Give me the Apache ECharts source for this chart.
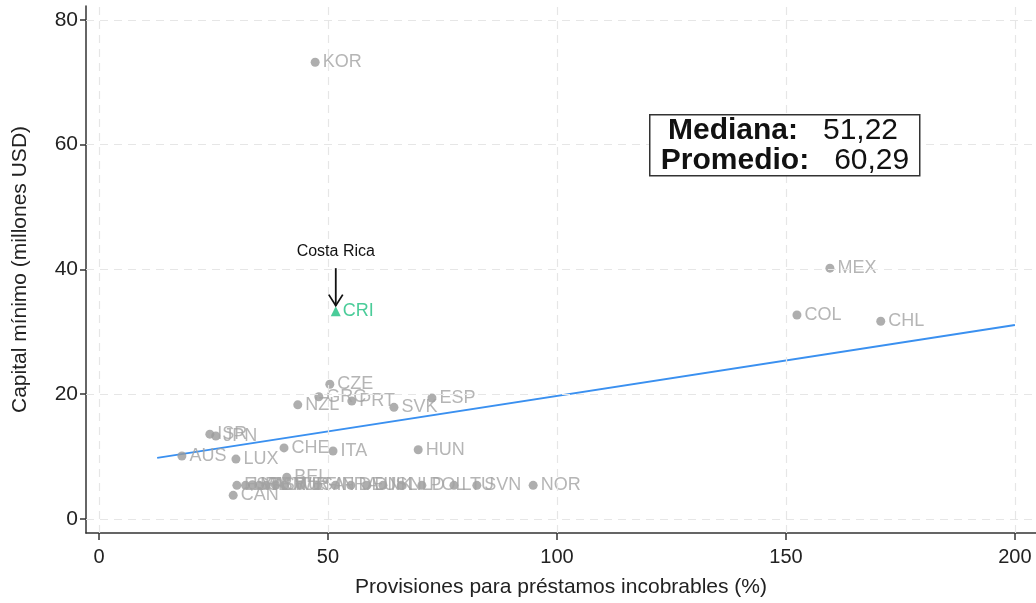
<!DOCTYPE html>
<html>
<head>
<meta charset="utf-8">
<script src="https://cdn.jsdelivr.net/npm/echarts@6/dist/echarts.min.js"></script>
<style>html,body{margin:0;padding:0;background:#fff}#c{width:1036px;height:603px}</style>
</head>
<body>
<div id="c"></div>
<script>
// Countries (gray points)
const names = ['KOR','MEX','COL','CHL','CZE','GRC','PRT','NZL','SVK','ESP','ISR','JPN','CHE','ITA','HUN','AUS','LUX','BEL','NOR','CAN',
  'EST','LVA','IRL','GBR','AUT','SWE','TUR','USA','FIN','FRA','DEU','DNK','ISL','NLD','POL','LTU','SVN'];
const provisions = [47.2,159.6,152.4,170.7,50.4,48.0,55.2,43.4,64.4,72.7,24.2,25.5,40.4,51.1,69.7,18.1,29.9,41.0,94.8,29.3,
  30.1,32.0,33.5,35.0,36.5,38.5,40.5,44.0,47.8,51.6,55.0,58.5,62.0,66.0,70.5,77.5,82.5];
const capital = [73.2,40.2,32.7,31.7,21.6,19.6,18.9,18.3,17.9,19.4,13.6,13.3,11.4,10.9,11.1,10.1,9.6,6.7,5.4,3.8,
  5.4,5.4,5.5,5.4,5.4,5.5,5.4,5.4,5.4,5.4,5.4,5.4,5.4,5.4,5.4,5.4,5.4];
// Costa Rica
const criName = 'CRI';
const criX = 51.7, criY = 33.3;
const annotText = 'Costa Rica';
const annotTextY = 42.8, arrowTopY = 40.2, arrowTipY = 34.2;
// Fitted line endpoints
const fitX = [12.7, 200];
const fitY = [9.8, 31.1];
// Ticks
const xTicks = [0, 50, 100, 150, 200];
const yTicks = [0, 20, 40, 60, 80];
// Stats box
const statLabels = ['Mediana:', 'Promedio:'];
const statValues = ['51,22', '60,29'];

const FONT = 'Liberation Sans, Arial, sans-serif';
const chart = echarts.init(document.getElementById('c'), null, {renderer: 'canvas'});

const gridMarks = xTicks.map(v => ({xAxis: v})).concat(yTicks.map(v => ({yAxis: v})));

const option = {
  animation: false,
  backgroundColor: '#fff',
  textStyle: {fontFamily: FONT},
  grid: {left: 86, right: 0, top: 6, bottom: 70, containLabel: false, outerBoundsMode: 'none'},
  xAxis: {
    type: 'value', min: -2.84, max: 204.6,
    name: 'Provisiones para préstamos incobrables (%)', nameLocation: 'middle', nameGap: 44,
    nameTextStyle: {fontSize: 21, color: '#222', fontFamily: FONT},
    axisLine: {show: true, onZero: false, lineStyle: {color: '#333', width: 1.5}},
    axisTick: {show: true, customValues: xTicks, length: 7, lineStyle: {color: '#333', width: 1.5}},
    axisLabel: {customValues: xTicks, fontSize: 20, color: '#222', margin: 14, fontFamily: FONT},
    splitLine: {show: false}
  },
  yAxis: {
    type: 'value', min: -2.24, max: 82.22,
    name: 'Capital mínimo (millones USD)', nameLocation: 'middle', nameGap: 55, nameRotate: 90,
    nameTextStyle: {fontSize: 21, color: '#222', fontFamily: FONT},
    axisLine: {show: true, onZero: false, lineStyle: {color: '#333', width: 1.5}},
    axisTick: {show: true, customValues: yTicks, length: 6, lineStyle: {color: '#333', width: 1.5}},
    axisLabel: {customValues: yTicks, fontSize: 21, color: '#222', margin: 8, fontFamily: FONT},
    splitLine: {show: false}
  },
  series: [
    {
      type: 'line', data: [], silent: true, z: 0,
      markLine: {
        silent: true, symbol: 'none', animation: false,
        label: {show: false},
        lineStyle: {type: [8, 6], color: '#e6e6e6', width: 1.2},
        data: gridMarks
      }
    },
    {
      type: 'line', z: 3, symbol: 'none', silent: true,
      lineStyle: {color: '#3a90f0', width: 2},
      data: fitX.map((x, i) => [x, fitY[i]])
    },
    {
      type: 'scatter', z: 4, symbol: 'circle', symbolSize: 9,
      itemStyle: {color: '#9a9a9a'},
      label: {show: true, position: 'right', distance: 3, formatter: '{b}', color: '#a3a3a3', fontSize: 18, fontFamily: FONT},
      data: names.map((n, i) => ({name: n, value: [provisions[i], capital[i]]}))
    },
    {
      type: 'scatter', z: 5, symbol: 'triangle', symbolSize: 10,
      itemStyle: {color: '#1dbf80'},
      label: {show: true, position: 'right', distance: 2, formatter: '{b}', color: '#1dbf80', fontSize: 18, fontFamily: FONT},
      data: [{name: criName, value: [criX, criY]}]
    },
    {
      type: 'custom', z: 6, silent: true,
      data: [[criX, annotTextY, arrowTopY, arrowTipY]],
      renderItem: function (params, api) {
        const t = api.coord([api.value(0), api.value(1)]);
        const a = api.coord([api.value(0), api.value(2)]);
        const b = api.coord([api.value(0), api.value(3)]);
        return {
          type: 'group',
          children: [
            {type: 'text', style: {x: t[0], y: t[1], text: annotText, fill: '#111', font: '16px ' + FONT, textAlign: 'center', textVerticalAlign: 'middle'}},
            {type: 'line', shape: {x1: a[0], y1: a[1], x2: b[0], y2: b[1]}, style: {stroke: '#111', lineWidth: 1.8}},
            {type: 'polyline', shape: {points: [[b[0] - 7, b[1] - 11], [b[0], b[1]], [b[0] + 7, b[1] - 11]]}, style: {stroke: '#111', lineWidth: 1.8, fill: null}}
          ]
        };
      }
    }
  ],
  graphic: [
    {type: 'rect', left: 649, top: 114, shape: {width: 270, height: 61}, style: {fill: '#fff', stroke: '#333', lineWidth: 1.5}, z: 10},
    {type: 'text', x: 783, y: 131, z: 11, style: {
      text: '{b|' + statLabels[0] + '}   ' + statValues[0], textAlign: 'center', textVerticalAlign: 'middle',
      font: '30px ' + FONT, fill: '#111', rich: {b: {fontWeight: 'bold', fontSize: 30, fontFamily: FONT, fill: '#111'}}}},
    {type: 'text', x: 785, y: 161, z: 11, style: {
      text: '{b|' + statLabels[1] + '}   ' + statValues[1], textAlign: 'center', textVerticalAlign: 'middle',
      font: '30px ' + FONT, fill: '#111', rich: {b: {fontWeight: 'bold', fontSize: 30, fontFamily: FONT, fill: '#111'}}}}
  ]
};
chart.setOption(option);
</script>
</body>
</html>
